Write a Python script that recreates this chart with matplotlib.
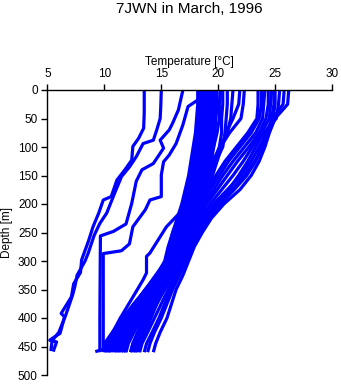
import matplotlib
matplotlib.use("Agg")
import matplotlib.pyplot as plt

plt.rcParams['font.family'] = ['Liberation Sans', 'DejaVu Sans']

# ---------------- data ----------------
title = "7JWN in March, 1996"
xlabel = "Temperature [\u00b0C]"
ylabel = "Depth [m]"
xticks = [5, 10, 15, 20, 25, 30]
yticks = [0, 50, 100, 150, 200, 250, 300, 350, 400, 450, 500]

# shared depth grid [m] for the bundle of warm profiles
depth_grid = [0, 25, 50, 75, 100, 125, 150, 175, 200, 225, 250, 275, 300, 325, 350, 375, 400, 425, 445, 460]

# warm surface group (23.5-26.2 C at surface)
r1 = [26.2, 26.1, 25.0, 24.5, 24.1, 23.6, 22.9, 21.9, 20.5, 19.4, 18.6, 17.9, 17.4, 16.9, 16.3, 15.9, 15.5, 14.9, 14.5, 14.3]
r2 = [25.8, 25.7, 24.8, 24.2, 23.8, 23.3, 22.5, 21.4, 20.2, 19.2, 18.4, 17.8, 17.2, 16.6, 16.0, 15.5, 15.0, 14.4, 14.0, 13.8]
r3 = [25.4, 25.3, 25.1, 24.0, 23.3, 22.6, 21.8, 20.9, 19.8, 18.9, 18.2, 17.6, 17.0, 16.3, 15.6, 15.0, 14.4, 13.8, 13.3, 13.1]
r4 = [25.0, 25.0, 24.8, 24.3, 23.6, 22.9, 22.0, 20.8, 19.6, 18.7, 18.0, 17.4, 16.9, 16.1, 15.3, 14.6, 13.9, 13.2, 12.8, 12.6]
r5 = [24.7, 24.6, 24.5, 23.8, 23.0, 22.2, 21.3, 20.3, 19.3, 18.6, 17.9, 17.3, 16.7, 15.9, 15.1, 14.3, 13.6, 13.0, 12.5, 12.3]
r6 = [24.4, 24.4, 24.2, 23.6, 22.7, 21.7, 20.8, 19.9, 19.0, 18.4, 17.8, 17.2, 16.5, 15.6, 14.8, 14.0, 13.2, 12.6, 12.1, 11.9]
r7 = [24.1, 24.0, 23.9, 23.3, 22.3, 21.3, 20.4, 19.6, 18.8, 18.2, 17.6, 17.0, 16.4, 15.7, 15.0, 14.4, 13.8, 13.3, 12.9, 12.7]
r8 = [23.8, 23.8, 23.6, 22.9, 21.9, 20.9, 20.1, 19.3, 18.6, 18.0, 17.5, 16.9, 16.3, 15.4, 14.6, 13.9, 13.4, 12.9, 12.5, 12.3]
r9 = [23.5, 23.5, 23.4, 22.6, 21.6, 20.6, 19.8, 19.1, 18.5, 17.9, 17.4, 16.8, 16.2, 15.2, 14.3, 13.5, 12.9, 12.3, 11.9, 11.7]
r10 = [24.9, 24.9, 24.7, 24.4, 24.0, 23.2, 22.3, 21.2, 20.0, 19.0, 18.3, 17.7, 17.1, 16.4, 15.8, 15.3, 14.8, 14.2, 13.7, 13.5]

# middle surface group (20-22.3 C)
m1 = [22.3, 22.2, 22.0, 21.0, 20.2, 19.7, 19.2, 18.8, 18.4, 17.9, 17.4, 16.9, 16.3, 15.5, 14.7, 13.9, 13.1, 12.4, 11.9, 11.7]
m2 = [21.3, 21.2, 21.1, 20.8, 20.2, 19.5, 19.0, 18.6, 18.1, 17.7, 17.2, 16.8, 16.2, 15.3, 14.5, 13.7, 12.9, 12.2, 11.7, 11.5]
m3 = [20.8, 20.8, 20.7, 20.6, 20.4, 19.8, 19.2, 18.7, 18.2, 17.8, 17.3, 16.8, 16.1, 15.1, 14.1, 13.3, 12.5, 11.9, 11.4, 11.2]
m4 = [20.4, 20.4, 20.3, 20.3, 20.1, 19.6, 19.0, 18.5, 18.0, 17.6, 17.1, 16.6, 15.9, 14.9, 13.9, 13.0, 12.2, 11.5, 11.0, 10.8]
m5 = [21.9, 21.8, 21.3, 20.7, 20.3, 19.9, 19.5, 19.0, 18.5, 18.0, 17.5, 17.0, 16.5, 15.8, 15.2, 14.6, 14.0, 13.5, 13.0, 12.8]
m6 = [20.2, 20.1, 20.1, 19.9, 19.6, 19.2, 18.8, 18.3, 17.8, 17.4, 17.0, 16.5, 15.9, 15.0, 14.1, 13.3, 12.6, 11.8, 11.2, 11.0]

# main surface group (18.2-19.9 C)
a1 = [19.9, 19.9, 19.8, 19.7, 19.6, 19.4, 19.2, 18.8, 18.3, 17.8, 17.3, 16.8, 16.2, 15.3, 14.4, 13.5, 12.7, 12.0, 11.5, 11.3]
a2 = [19.7, 19.7, 19.6, 19.5, 19.4, 19.2, 19.0, 18.6, 18.1, 17.7, 17.2, 16.7, 16.1, 15.1, 14.1, 13.2, 12.4, 11.6, 11.1, 10.9]
a3 = [19.5, 19.5, 19.4, 19.3, 19.2, 19.0, 18.8, 18.4, 18.0, 17.5, 17.1, 16.6, 16.0, 15.0, 14.0, 13.0, 12.1, 11.3, 10.8, 10.6]
a4 = [19.3, 19.3, 19.2, 19.1, 19.0, 18.8, 18.6, 18.3, 17.9, 17.5, 17.0, 16.5, 15.9, 14.8, 13.7, 12.8, 11.9, 11.1, 10.6, 10.4]
a5 = [19.1, 19.1, 19.0, 18.9, 18.8, 18.6, 18.4, 18.1, 17.7, 17.3, 16.8, 16.3, 15.7, 14.7, 13.6, 12.7, 11.8, 11.0, 10.4, 10.2]
a6 = [18.9, 18.9, 18.8, 18.7, 18.6, 18.4, 18.2, 17.9, 17.5, 17.1, 16.6, 16.1, 15.5, 14.6, 13.7, 12.8, 11.9, 11.0, 10.3, 10.1]
a7 = [18.7, 18.7, 18.6, 18.5, 18.4, 18.2, 18.0, 17.7, 17.3, 16.9, 16.4, 15.9, 15.4, 14.6, 13.6, 12.6, 11.7, 11.0, 10.6, 10.4]
a8 = [18.5, 18.5, 18.4, 18.3, 18.2, 18.0, 17.8, 17.5, 17.1, 16.7, 16.2, 15.8, 15.4, 14.8, 14.0, 13.2, 12.4, 11.8, 11.3, 11.1]
a9 = [18.3, 18.3, 18.2, 18.1, 18.0, 17.8, 17.6, 17.3, 16.9, 16.5, 16.0, 15.7, 15.4, 14.5, 13.6, 12.7, 11.8, 10.9, 10.2, 10.0]
a10 = [18.2, 18.2, 18.1, 18.0, 17.8, 17.6, 17.4, 17.1, 16.8, 16.4, 16.0, 15.6, 15.3, 14.6, 13.7, 12.6, 11.6, 10.7, 10.0, 9.9]
a11 = [19.8, 19.8, 19.7, 19.6, 19.4, 19.1, 18.7, 18.4, 18.0, 17.6, 17.2, 16.8, 16.4, 15.8, 15.2, 14.6, 14.1, 13.6, 13.2, 13.0]
a12 = [19.6, 19.5, 19.4, 19.3, 19.1, 18.8, 18.5, 18.2, 17.8, 17.5, 17.1, 16.7, 16.3, 15.6, 14.9, 14.2, 13.6, 13.1, 12.7, 12.5]
a13 = [19.2, 19.2, 19.1, 19.0, 18.9, 18.7, 18.5, 18.2, 17.9, 17.5, 17.1, 16.7, 16.2, 15.5, 14.7, 13.9, 13.1, 12.5, 12.0, 11.8]
a14 = [18.8, 18.8, 18.7, 18.6, 18.5, 18.3, 18.1, 17.8, 17.4, 17.1, 16.7, 16.3, 15.9, 15.2, 14.4, 13.6, 12.9, 12.2, 11.7, 11.5]

bundle = [r1, r2, r3, r4, r5, r6, r7, r8, r9, r10,
          m1, m2, m3, m4, m5, m6,
          a1, a2, a3, a4, a5, a6, a7, a8, a9, a10, a11, a12, a13, a14]

# individual profiles with their own depth samples
prof_a_depth = [0, 40, 67, 85, 99, 123, 140, 158, 187, 193, 216, 240, 265, 298, 320, 340, 363, 392, 398, 427, 436, 439, 442, 459]
prof_a_temp = [13.5, 13.5, 13.45, 13.0, 12.5, 12.4, 11.8, 11.1, 10.6, 9.9, 9.5, 9.0, 8.6, 8.0, 7.9, 7.3, 7.1, 6.2, 6.5, 6.1, 5.4, 5.2, 5.8, 5.5]

prof_b_depth = [0, 30, 50, 70, 88, 94, 117, 135, 152, 181, 216, 234, 255, 285, 300, 325, 345, 360, 395, 425, 440, 458]
prof_b_temp = [15.0, 14.95, 14.9, 14.6, 14.3, 13.4, 12.8, 12.2, 11.5, 10.9, 10.2, 9.6, 9.1, 8.6, 8.3, 7.6, 7.4, 7.2, 6.6, 6.0, 5.4, 5.3]

prof_c_depth = [0, 35, 58, 70, 88, 102, 117, 129, 140, 160, 199, 235, 248, 256, 400, 460]
prof_c_temp = [16.9, 16.5, 16.0, 15.7, 14.9, 15.2, 14.7, 14.3, 13.3, 12.8, 12.4, 11.9, 10.8, 9.65, 9.6, 9.6]

prof_d_depth = [0, 15, 29, 61, 94, 114, 126, 149, 187, 193, 210, 240, 270, 282, 287, 455, 459]
prof_d_temp = [18.6, 18.4, 17.35, 16.9, 16.3, 15.7, 15.2, 15.0, 15.0, 14.0, 13.6, 12.5, 12.2, 11.5, 9.9, 9.9, 9.2]

prof_e_depth = [0, 50, 100, 150, 200, 216, 240, 286, 292, 321, 333, 360, 400, 430, 460]
prof_e_temp = [18.6, 18.5, 18.3, 17.9, 17.2, 16.6, 15.45, 14.0, 13.7, 13.7, 13.4, 12.6, 11.4, 10.6, 10.3]

singles = [(prof_a_temp, prof_a_depth), (prof_b_temp, prof_b_depth),
           (prof_c_temp, prof_c_depth), (prof_d_temp, prof_d_depth),
           (prof_e_temp, prof_e_depth)]

# ---------------- figure ----------------
W, H = 341, 384
fig = plt.figure(figsize=(W / 100, H / 100), dpi=100)
ax = fig.add_axes([47.5 / W, 1 - 375 / H, (332 - 47.5) / W, (375 - 90) / H])

blue = '#0000ff'
lw = 2.3
for temps in bundle:
    ax.plot(temps, depth_grid, color=blue, lw=lw, solid_joinstyle='round',
            solid_capstyle='butt')
for temps, depths in singles:
    ax.plot(temps, depths, color=blue, lw=lw, solid_joinstyle='round',
            solid_capstyle='butt')

ax.set_xlim(5, 30)
ax.set_ylim(500, 0)
ax.set_xticks(xticks)
ax.set_yticks(yticks)

for side in ('right', 'bottom'):
    ax.spines[side].set_visible(False)
for side in ('top', 'left'):
    ax.spines[side].set_linewidth(1.0)
    ax.spines[side].set_color('black')

ax.xaxis.tick_top()
ax.tick_params(axis='both', direction='out', length=4, width=1.0, labelsize=8.5, pad=3, colors='black')
ax.tick_params(axis='x', top=True, bottom=False)

ax.xaxis.set_label_position('top')
ax.set_xlabel(xlabel, fontsize=8.5, va='baseline')
ax.xaxis.set_label_coords(0.5, (375 - 65) / 285)
ax.set_ylabel(ylabel, fontsize=8.5, va='center', ha='center')
ax.yaxis.set_label_coords((7 - 47.5) / 284.5, 0.5)

fig.text(189.75 / W, 1 - 12.7 / H, title, fontsize=11, ha='center', va='baseline')

fig.savefig('out.png', dpi=100)
